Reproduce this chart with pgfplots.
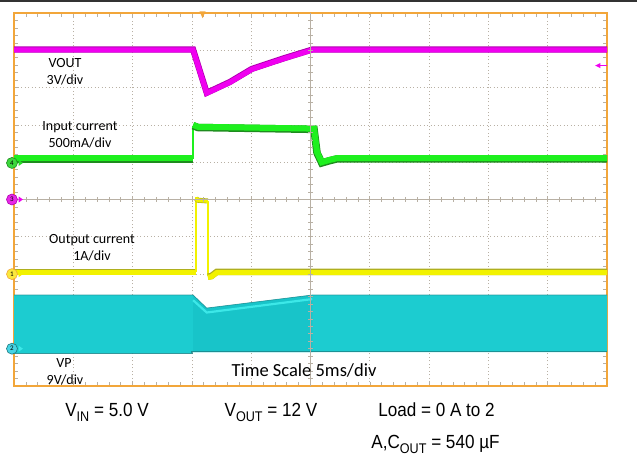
\documentclass[border=0pt]{standalone}
\usepackage{pgfplots}
\pgfplotsset{compat=1.18}
\usepackage{graphicx}
\usepackage{fontspec}
\setmainfont{Carlito}
\newfontfamily\arialfont{Liberation Sans}
\definecolor{scoorange}{RGB}{242,166,58}
\definecolor{gridc}{RGB}{184,176,164}
\definecolor{magtr}{RGB}{240,0,240}
\definecolor{magdk}{RGB}{175,0,175}
\definecolor{grtr}{RGB}{30,240,30}
\definecolor{grdk}{RGB}{30,140,30}
\definecolor{yltr}{RGB}{242,242,0}
\definecolor{yldk}{RGB}{175,175,30}
\definecolor{cyfill}{RGB}{28,204,208}
\definecolor{cymid}{RGB}{24,196,201}
\definecolor{cylt}{RGB}{60,232,232}
\definecolor{cydk}{RGB}{30,120,125}
\definecolor{grmk}{RGB}{60,215,60}
\definecolor{grar}{RGB}{40,220,40}
\definecolor{magmk}{RGB}{230,40,230}
\definecolor{ylmk}{RGB}{250,232,60}
\definecolor{cymk}{RGB}{70,212,228}
\tikzset{chmark/.style 2 args={circle, inner sep=0pt, minimum size=11pt, draw=#2, line width=0.6pt, fill=#1, font=\fontsize{7}{7}\selectfont}}
\begin{document}
\begin{tikzpicture}
\path[use as bounding box] (0pt,0pt) rectangle (637pt,457pt);
\fill[black!80] (0pt,455.2pt) rectangle (637pt,457pt);
\begin{axis}[at={(14pt,71pt)}, anchor=south west, scale only axis,
  width=593pt, height=373pt, xmin=0, xmax=10, ymin=0, ymax=10,
  xtick={0,...,10}, ytick={0,...,10}, xticklabels={}, yticklabels={},
  minor x tick num=4, minor y tick num=4, tick align=inside,
  major tick length=4pt, minor tick length=4pt,
  tick style={gridc, line width=0.6pt},
  grid=major, major grid style={gridc, line width=0.7pt, dash pattern=on 1pt off 2.5pt},
  axis line style={scoorange, line width=1.8pt}, clip=false]
% VP (cyan band)
\addplot[fill=cyfill, draw=none] coordinates {(0,0.87) (0,2.44) (3.02,2.44) (3.25,2.09) (5.03,2.44) (10,2.44) (10,0.91) (3.0,0.91) (3.0,0.87)} -- cycle;
\addplot[fill=cymid, draw=none] coordinates {(3.02,0.91) (3.02,2.44) (3.25,2.09) (5.03,2.44) (5.03,0.91)} -- cycle;
\addplot[cylt, line width=2.2pt] coordinates {(3.02,2.30) (3.25,1.97) (5.03,2.33)};
\addplot[cydk, line width=0.7pt, opacity=0.6] coordinates {(0,2.44) (3.02,2.44) (3.25,2.09) (5.03,2.44) (10,2.44)};
\addplot[cydk, line width=1.2pt, opacity=0.7] coordinates {(0,0.88) (3.0,0.88) (3.0,0.92) (10,0.92)};
% Output current (yellow)
\addplot[yldk, line width=6.5pt] coordinates {(0,3.06) (3.07,3.06)};
\addplot[yltr, line width=5.2pt] coordinates {(0,3.04) (3.07,3.04)};
\addplot[yltr, line width=1.3pt] coordinates {(3.07,3.06) (3.07,5.08)};
\addplot[yldk, line width=5pt] coordinates {(3.07,5.03) (3.10,4.98) (3.27,4.96)};
\addplot[yltr, line width=3.8pt] coordinates {(3.07,5.03) (3.10,4.98) (3.27,4.96)};
\addplot[yltr, line width=1.3pt] coordinates {(3.27,4.96) (3.27,2.95)};
\addplot[yldk, line width=6.5pt] coordinates {(3.27,2.93) (3.33,2.95) (3.42,3.06) (10,3.06)};
\addplot[yltr, line width=5.2pt] coordinates {(3.27,2.91) (3.33,2.93) (3.42,3.04) (10,3.04)};
% Input current (green)
\addplot[grdk, line width=7.5pt] coordinates {(0,6.09) (3.02,6.09)};
\addplot[grtr, line width=6pt] coordinates {(0,6.11) (3.02,6.11)};
\addplot[grtr, line width=1.3pt] coordinates {(3.02,6.09) (3.02,6.98)};
\addplot[grdk, line width=7.5pt] coordinates {(3.02,6.98) (3.1,6.93) (5.06,6.88) (5.11,6.25) (5.19,5.98) (5.32,6.04) (5.45,6.09) (10,6.09)};
\addplot[grtr, line width=6pt] coordinates {(3.02,7.0) (3.1,6.95) (5.06,6.90) (5.11,6.27) (5.19,6.0) (5.32,6.06) (5.45,6.11) (10,6.11)};
% VOUT (magenta)
\addplot[magdk, line width=6.2pt] coordinates {(0,9.02) (3.02,9.02) (3.25,7.86) (3.64,8.15) (4.01,8.50) (4.54,8.78) (5.03,9.02) (10,9.02)};
\addplot[magtr, line width=5pt] coordinates {(0,9.01) (3.02,9.01) (3.25,7.85) (3.64,8.14) (4.01,8.49) (4.54,8.77) (5.03,9.01) (10,9.01)};
% centre cross
\draw[gridc, line width=0.7pt] (axis cs:5,0) -- (axis cs:5,10);
\draw[gridc, line width=0.7pt] (axis cs:0,5) -- (axis cs:10,5);
\pgfplotsinvokeforeach{1,...,49}{
  \draw[gridc, line width=0.6pt] (axis cs:#1/5,4.945) -- (axis cs:#1/5,5.055);
  \draw[gridc, line width=0.6pt] (axis cs:4.966,#1/5) -- (axis cs:5.034,#1/5);
}
% trigger marker
\fill[scoorange] (axis cs:3.13,10.04) -- (axis cs:3.23,10.04) -- (axis cs:3.18,9.86) -- cycle;
% VOUT reference arrow on right
\draw[magtr, line width=1pt] (axis cs:9.86,8.59) -- (axis cs:10,8.59);
\fill[magtr] (axis cs:9.80,8.59) -- (axis cs:9.89,8.66) -- (axis cs:9.89,8.52) -- cycle;
% channel markers
\fill[grar] (axis cs:0.08,6.06) -- (axis cs:0.08,5.90) -- (axis cs:0.15,5.98) -- cycle;
\node[chmark={grmk}{grdk}] at (axis cs:-0.034,5.98) {4};
\fill[magtr] (axis cs:0.08,5.08) -- (axis cs:0.08,4.92) -- (axis cs:0.15,5.0) -- cycle;
\node[chmark={magmk}{magdk}] at (axis cs:-0.034,5.0) {3};
\fill[yltr] (axis cs:0.08,3.08) -- (axis cs:0.08,2.92) -- (axis cs:0.15,3.0) -- cycle;
\node[chmark={ylmk}{scoorange}] at (axis cs:-0.034,3.0) {1};
\fill[cylt] (axis cs:0.08,1.08) -- (axis cs:0.08,0.92) -- (axis cs:0.15,1.0) -- cycle;
\node[chmark={cymk}{cydk}] at (axis cs:-0.034,1.0) {2};
\end{axis}
% trace labels
\begin{scope}[every node/.style={anchor=base, inner sep=0pt, font=\fontsize{14}{14}\selectfont}]
\node at (65pt,389pt) {VOUT};
\node at (65pt,372pt) {3V/div};
\node at (80pt,326pt) {Input current};
\node at (80pt,309pt) {500mA/div};
\node at (92pt,213pt) {Output current};
\node at (92pt,196pt) {1A/div};
\node at (64pt,89pt) {VP};
\node at (65pt,72.5pt) {9V/div};
\node[font=\fontsize{18.5}{18.5}\selectfont] at (304pt,80pt) {Time Scale 5ms/div};
\end{scope}
% conditions
\newcommand{\sub}[1]{\raisebox{-5pt}{\fontsize{14}{14}\selectfont #1}}
\begin{scope}[every node/.style={anchor=base, inner sep=0pt, font=\arialfont\fontsize{19}{19}\selectfont}]
\node at (107pt,40pt) {\scalebox{0.9}[1]{V\sub{IN} = 5.0 V}};
\node at (271pt,40pt) {\scalebox{0.9}[1]{V\sub{OUT} = 12 V}};
\node at (436.5pt,40.5pt) {\scalebox{0.9}[1]{Load = 0 A to 2}};
\node at (435.5pt,8pt) {\scalebox{0.9}[1]{A,C\sub{OUT} = 540 µF}};
\end{scope}
\end{tikzpicture}
\end{document}
